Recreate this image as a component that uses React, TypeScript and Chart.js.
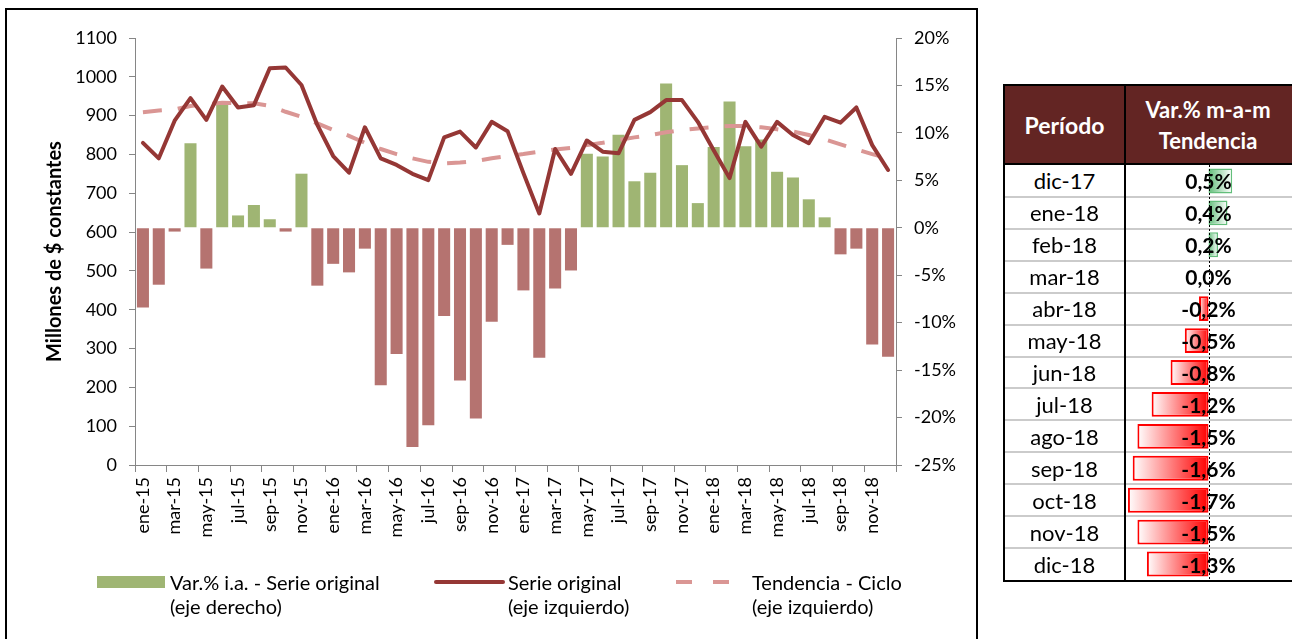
import React, { useEffect, useRef } from 'react';
import { Chart, registerables } from 'chart.js';

Chart.register(...registerables);

// ---------- DATA ----------
const months = [
  'ene-15', 'feb-15', 'mar-15', 'abr-15', 'may-15', 'jun-15', 'jul-15', 'ago-15', 'sep-15', 'oct-15', 'nov-15', 'dic-15',
  'ene-16', 'feb-16', 'mar-16', 'abr-16', 'may-16', 'jun-16', 'jul-16', 'ago-16', 'sep-16', 'oct-16', 'nov-16', 'dic-16',
  'ene-17', 'feb-17', 'mar-17', 'abr-17', 'may-17', 'jun-17', 'jul-17', 'ago-17', 'sep-17', 'oct-17', 'nov-17', 'dic-17',
  'ene-18', 'feb-18', 'mar-18', 'abr-18', 'may-18', 'jun-18', 'jul-18', 'ago-18', 'sep-18', 'oct-18', 'nov-18', 'dic-18',
];

// Var.% i.a. - Serie original (eje derecho, %)
const varIA = [
  -8.4, -6.0, -0.4, 8.9, -4.3, 13.0, 1.3, 2.4, 0.9, -0.4, 5.7, -6.1,
  -3.8, -4.7, -2.2, -16.6, -13.3, -23.1, -20.8, -9.3, -16.1, -20.1, -9.9, -1.8,
  -6.6, -13.7, -6.4, -4.5, 7.8, 7.5, 9.8, 4.9, 5.8, 15.2, 6.6, 2.6,
  8.5, 13.3, 8.6, 9.3, 5.9, 5.3, 3.0, 1.1, -2.8, -2.2, -12.3, -13.6,
];

// Serie original (eje izquierdo, millones de $ constantes)
const serieOriginal = [
  830, 790, 887, 945, 889, 975, 921, 927, 1022, 1024, 979, 876,
  796, 753, 870, 790, 773, 750, 734, 844, 859, 818, 884, 860,
  752, 648, 814, 750, 836, 807, 803, 889, 909, 940, 940, 884,
  811, 739, 884, 820, 884, 850, 829, 897, 882, 921, 824, 760,
];

// Tendencia - Ciclo (eje izquierdo)
const tendencia = [
  909, 913, 916, 925, 929, 933, 932, 932, 925, 910, 897, 880,
  863, 848, 830, 814, 801, 790, 781, 777, 779, 783, 790, 796,
  801, 807, 813, 817, 824, 830, 837, 844, 850, 857, 863, 867,
  871, 873, 873, 870, 865, 859, 850, 839, 826, 813, 801, 790,
];

// Tabla: Var.% m-a-m Tendencia
const periodos = ['dic-17', 'ene-18', 'feb-18', 'mar-18', 'abr-18', 'may-18', 'jun-18', 'jul-18', 'ago-18', 'sep-18', 'oct-18', 'nov-18', 'dic-18'];
const varMaM = [0.5, 0.4, 0.2, 0.0, -0.2, -0.5, -0.8, -1.2, -1.5, -1.6, -1.7, -1.5, -1.3];

// ---------- STYLE ----------
const FONT = 'Lato, "Open Sans", sans-serif';
const GREEN = '#9FB573';
const RED = '#B57370';
const LINE = '#953735';
const TREND = '#DA9694';
const AXIS = '#868686';

const fmt = (v: number) => (v < 0 ? '-' : '') + Math.abs(v).toFixed(1).replace('.', ',') + '%';

export default function App() {
  const mainRef = useRef<HTMLCanvasElement>(null);
  const tableRef = useRef<HTMLCanvasElement>(null);

  useEffect(() => {
    const main = new Chart(mainRef.current as HTMLCanvasElement, {
      data: {
        labels: months,
        datasets: [
          {
            type: 'line',
            label: 'Serie original (eje izquierdo)',
            data: serieOriginal,
            yAxisID: 'y',
            borderColor: LINE,
            borderWidth: 4,
            pointRadius: 0,
            tension: 0,
            borderJoinStyle: 'round',
            borderCapStyle: 'round',
            order: 0,
          },
          {
            type: 'line',
            label: 'Tendencia - Ciclo (eje izquierdo)',
            data: tendencia,
            yAxisID: 'y',
            borderColor: TREND,
            borderWidth: 4,
            borderDash: [19, 16],
            pointRadius: 0,
            tension: 0,
            order: 1,
          },
          {
            type: 'bar',
            label: 'Var.% i.a. - Serie original (eje derecho)',
            data: varIA,
            yAxisID: 'y1',
            backgroundColor: (c: any) => ((c.raw as number) >= 0 ? GREEN : RED),
            barPercentage: 0.76,
            categoryPercentage: 1,
            order: 2,
          },
        ],
      } as any,
      options: {
        animation: false,
        responsive: false,
        maintainAspectRatio: false,
        layout: { padding: { top: 38, left: 0, right: 0, bottom: 0 } },
        plugins: { legend: { display: false }, tooltip: { enabled: false } },
        scales: {
          x: {
            type: 'category',
            grid: {
              offset: true,
              drawOnChartArea: false,
              drawTicks: true,
              tickLength: 7,
              tickWidth: 1,
              tickColor: (c: any) => (c.index === undefined || c.index % 2 === 0 ? AXIS : 'rgba(0,0,0,0)'),
            },
            border: { color: AXIS, width: 1 },
            ticks: {
              autoSkip: false,
              maxRotation: 90,
              minRotation: 90,
              padding: 5,
              color: '#000',
              font: { family: FONT, size: 18 },
              callback: (_v: any, i: number) => (i % 2 === 0 ? months[i] : ''),
            },
            afterFit: (s: any) => {
              s.height = 174;
            },
          },
          y: {
            position: 'left',
            min: 0,
            max: 1100,
            grid: { drawOnChartArea: false, drawTicks: true, tickLength: 6, color: AXIS },
            border: { color: AXIS, width: 1 },
            ticks: {
              stepSize: 100,
              padding: 12,
              color: '#000',
              font: { family: FONT, size: 18 },
              callback: (v: any) => String(v),
            },
            title: {
              display: true,
              text: 'Millones de $ constantes',
              color: '#000',
              font: { family: FONT, size: 20, weight: 'bold' },
              padding: { top: 43, bottom: 0 },
            },
            afterFit: (s: any) => {
              s.width = 135;
            },
          },
          y1: {
            position: 'right',
            min: -25,
            max: 20,
            grid: { drawOnChartArea: false, drawTicks: true, tickLength: 6, color: AXIS },
            border: { color: AXIS, width: 1 },
            ticks: {
              stepSize: 5,
              padding: 12,
              color: '#000',
              font: { family: FONT, size: 18 },
              callback: (v: any) => v + '%',
            },
            afterFit: (s: any) => {
              s.width = 84;
            },
          },
        },
      } as any,
    });

    const zeroLine = {
      id: 'zeroLine',
      afterDatasetsDraw(chart: any) {
        const xs = chart.scales.x;
        const x0 = Math.round(xs.getPixelForValue(0)) + 0.5;
        const ctx = chart.ctx;
        ctx.save();
        ctx.strokeStyle = '#000';
        ctx.lineWidth = 1;
        ctx.setLineDash([2, 2]);
        ctx.beginPath();
        ctx.moveTo(x0, chart.chartArea.top);
        ctx.lineTo(x0, chart.chartArea.bottom);
        ctx.stroke();
        ctx.restore();
      },
    };

    const table = new Chart(tableRef.current as HTMLCanvasElement, {
      type: 'bar',
      data: {
        labels: periodos,
        datasets: [
          {
            data: varMaM,
            backgroundColor: (c: any) => {
              const v = c.raw as number;
              const col = v >= 0 ? '#63BE7B' : '#FF0000';
              const xs = c.chart.scales && c.chart.scales.x;
              if (!xs || v == null) return col;
              const x0 = xs.getPixelForValue(0);
              const x1 = xs.getPixelForValue(v);
              if (!isFinite(x0) || !isFinite(x1) || x0 === x1) return col;
              const g = c.chart.ctx.createLinearGradient(x0, 0, x1, 0);
              g.addColorStop(0, col);
              g.addColorStop(1, '#FFFFFF');
              return g;
            },
            borderColor: (c: any) => ((c.raw as number) >= 0 ? '#63BE7B' : '#FF0000'),
            borderWidth: (c: any) => ((c.raw as number) === 0 ? 0 : (c.raw as number) > 0 ? 1.5 : 2),
            borderSkipped: false,
            barPercentage: 0.78,
            categoryPercentage: 1,
          },
        ],
      },
      options: {
        indexAxis: 'y',
        animation: false,
        responsive: false,
        maintainAspectRatio: false,
        layout: { padding: 0 },
        plugins: { legend: { display: false }, tooltip: { enabled: false } },
        scales: {
          x: { display: false, min: -1.72, max: 1.72 },
          y: { display: false },
        },
      } as any,
      plugins: [zeroLine],
    });

    return () => {
      main.destroy();
      table.destroy();
    };
  }, []);

  const txt: React.CSSProperties = {
    position: 'absolute',
    fontFamily: FONT,
    fontSize: 20,
    lineHeight: '24px',
    color: '#000',
    whiteSpace: 'nowrap',
  };

  const rowTop = 165;
  const rowH = 415 / 13;

  return (
    <div
      style={{
        position: 'fixed',
        left: 0,
        top: 0,
        width: 1292,
        height: 639,
        background: '#fff',
        overflow: 'hidden',
      }}
    >
      {/* Chart box border */}
      <div
        style={{
          position: 'absolute',
          left: 5,
          top: 8,
          width: 973,
          height: 700,
          border: '2px solid #000',
          boxSizing: 'border-box',
        }}
      />
      <canvas
        ref={mainRef}
        width={980}
        height={639}
        style={{ position: 'absolute', left: 0, top: 0, width: 980, height: 639 }}
      />

      {/* Legend */}
      <div style={{ position: 'absolute', left: 97, top: 576, width: 68, height: 12, background: GREEN }} />
      <div style={{ ...txt, left: 170, top: 570 }}>
        Var.% i.a. - Serie original
        <br />
        (eje derecho)
      </div>
      <div style={{ position: 'absolute', left: 434, top: 580, width: 71, height: 4, background: LINE, borderRadius: 2 }} />
      <div style={{ ...txt, left: 508, top: 570 }}>
        Serie original
        <br />
        (eje izquierdo)
      </div>
      <div style={{ position: 'absolute', left: 676, top: 580, width: 16, height: 4, background: TREND }} />
      <div style={{ position: 'absolute', left: 713, top: 580, width: 16, height: 4, background: TREND }} />
      <div style={{ ...txt, left: 752, top: 570 }}>
        Tendencia - Ciclo
        <br />
        (eje izquierdo)
      </div>

      {/* Table */}
      <div
        style={{
          position: 'absolute',
          left: 1003,
          top: 84,
          width: 300,
          height: 498,
          border: '2px solid #000',
          boxSizing: 'border-box',
        }}
      />
      <div style={{ position: 'absolute', left: 1005, top: 86, width: 300, height: 77, background: '#632523' }} />
      <div style={{ position: 'absolute', left: 1003, top: 163, width: 300, height: 2, background: '#000' }} />
      {periodos.slice(1).map((_p, i) => (
        <div
          key={'rl' + i}
          style={{
            position: 'absolute',
            left: 1005,
            top: Math.round(rowTop + rowH * (i + 1)) - 1,
            width: 300,
            height: 2,
            background: '#CBCBCB',
          }}
        />
      ))}
      <canvas
        ref={tableRef}
        width={163}
        height={415}
        style={{ position: 'absolute', left: 1127, top: rowTop, width: 163, height: 415 }}
      />
      <div style={{ position: 'absolute', left: 1124, top: 84, width: 2, height: 498, background: '#000' }} />
      <div
        style={{
          position: 'absolute',
          left: 1005,
          top: 86,
          width: 119,
          height: 77,
          display: 'flex',
          alignItems: 'center',
          justifyContent: 'center',
          fontFamily: FONT,
          fontWeight: 'bold',
          fontSize: 23,
          color: '#fff',
        }}
      >
        Período
      </div>
      <div
        style={{
          position: 'absolute',
          left: 1126,
          top: 86,
          width: 164,
          height: 77,
          display: 'flex',
          flexDirection: 'column',
          alignItems: 'center',
          justifyContent: 'center',
          fontFamily: FONT,
          fontWeight: 'bold',
          fontSize: 22,
          lineHeight: '31px',
          color: '#fff',
          textAlign: 'center',
        }}
      >
        <div>Var.% m-a-m</div>
        <div>Tendencia</div>
      </div>
      {periodos.map((p, i) => (
        <React.Fragment key={p}>
          <div
            style={{
              position: 'absolute',
              left: 1005,
              top: rowTop + rowH * i,
              width: 119,
              height: rowH,
              display: 'flex',
              alignItems: 'center',
              justifyContent: 'center',
              fontFamily: FONT,
              fontSize: 22,
              color: '#000',
            }}
          >
            {p}
          </div>
          <div
            style={{
              position: 'absolute',
              left: 1127,
              top: rowTop + rowH * i,
              width: 163,
              height: rowH,
              display: 'flex',
              alignItems: 'center',
              justifyContent: 'center',
              fontFamily: FONT,
              fontWeight: 'bold',
              fontSize: 21,
              color: '#000',
            }}
          >
            {fmt(varMaM[i])}
          </div>
        </React.Fragment>
      ))}
    </div>
  );
}
